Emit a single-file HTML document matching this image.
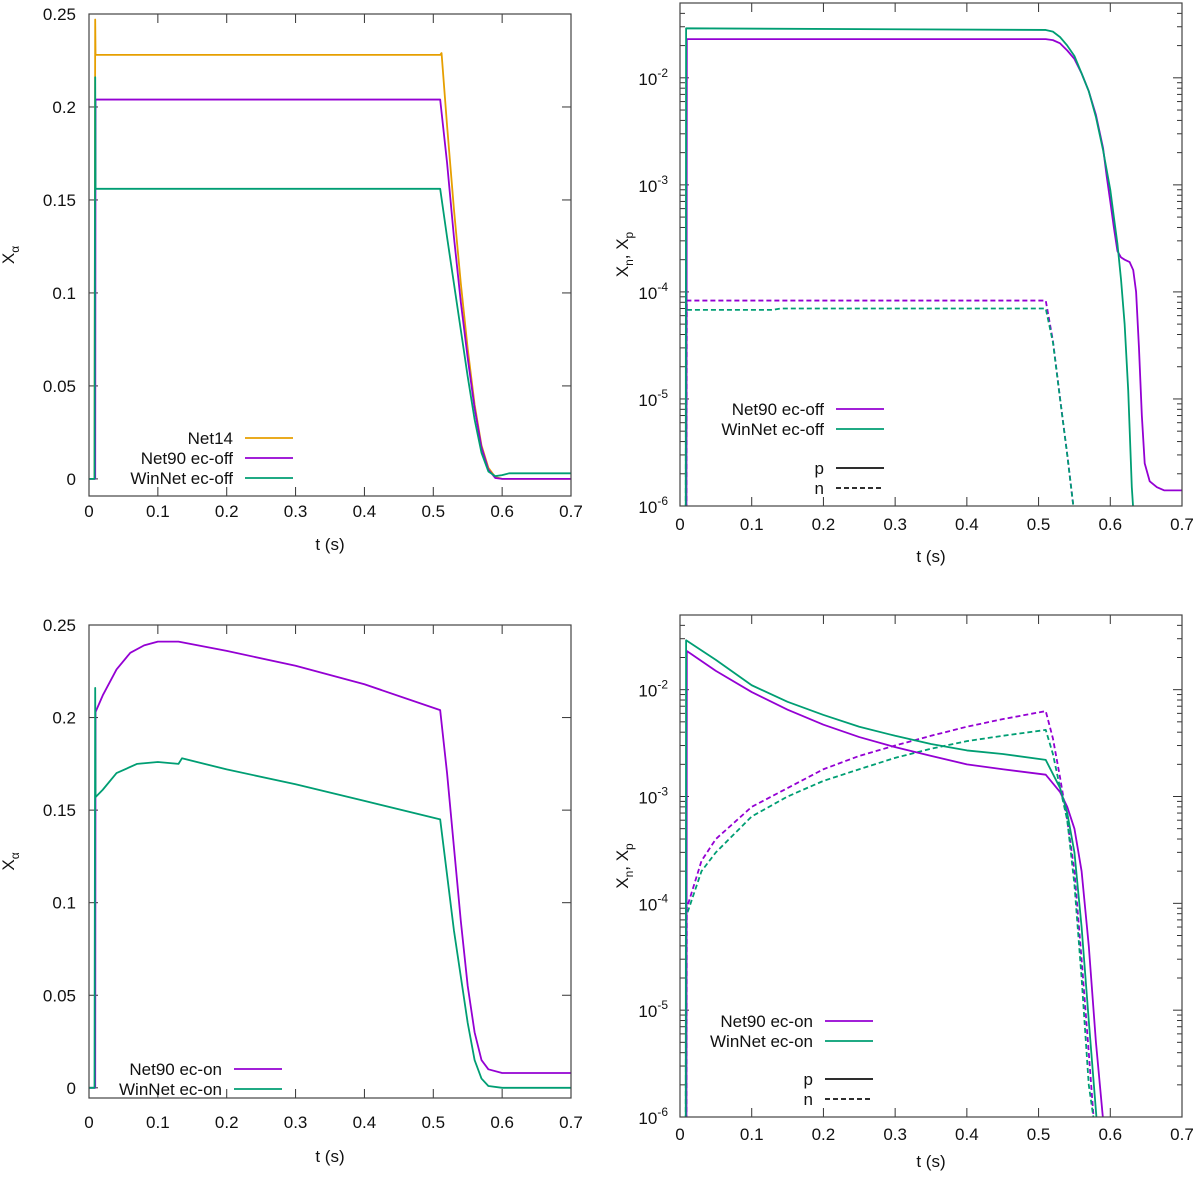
<!DOCTYPE html>
<html><head><meta charset="utf-8"><style>
html,body{margin:0;padding:0;background:#fff;width:1200px;height:1179px;overflow:hidden}
svg{display:block;overflow:hidden;font-family:"Liberation Sans","DejaVu Sans",sans-serif}
</style></head><body>
<svg id="fig" width="1200" height="1179" viewBox="0 0 1200 1179"></svg>
<script>
const xTicks=[0,0.1,0.2,0.3,0.4,0.5,0.6,0.7];
const xTickLabels=["0","0.1","0.2","0.3","0.4","0.5","0.6","0.7"];
const linTicks=[0,0.05,0.1,0.15,0.2,0.25];
const linTickLabels=["0","0.05","0.1","0.15","0.2","0.25"];
const logDecades=[-6,-5,-4,-3,-2];
// panel a (top-left)
const a_net14=[[0,0],[0.008,0],[0.009,0.247],[0.0095,0.228],[0.51,0.228],[0.512,0.229],[0.52,0.19],[0.53,0.145],[0.54,0.105],[0.55,0.07],[0.56,0.04],[0.57,0.018],[0.58,0.006],[0.59,0.001],[0.6,0],[0.7,0]];
const a_net90=[[0,0],[0.009,0],[0.0095,0.204],[0.51,0.204],[0.52,0.17],[0.53,0.13],[0.54,0.095],[0.55,0.065],[0.56,0.038],[0.57,0.017],[0.58,0.005],[0.59,0.0005],[0.6,0],[0.7,0]];
const a_winnet=[[0,0],[0.008,0],[0.009,0.216],[0.0095,0.156],[0.51,0.156],[0.52,0.13],[0.53,0.105],[0.54,0.08],[0.55,0.055],[0.56,0.032],[0.57,0.014],[0.58,0.004],[0.59,0.0015],[0.6,0.002],[0.61,0.003],[0.7,0.003]];
// panel b (top-right)
const b_net90p=[[0.009,1e-8],[0.0095,0.023],[0.51,0.023],[0.52,0.0225],[0.53,0.021],[0.54,0.018],[0.55,0.015],[0.56,0.011],[0.57,0.0075],[0.58,0.0045],[0.59,0.0022],[0.595,0.0012],[0.6,0.0007],[0.605,0.0004],[0.61,0.00024],[0.615,0.00021],[0.62,0.0002],[0.627,0.00019],[0.632,0.00016],[0.636,0.0001],[0.64,0.00003],[0.644,0.000007],[0.648,0.0000025],[0.655,0.0000017],[0.665,0.0000015],[0.675,0.0000014],[0.7,0.0000014]];
const b_winp=[[0.008,1e-8],[0.0085,0.029],[0.51,0.028],[0.52,0.027],[0.53,0.024],[0.54,0.02],[0.55,0.016],[0.56,0.011],[0.57,0.0075],[0.58,0.0043],[0.59,0.0021],[0.6,0.0009],[0.605,0.0005],[0.61,0.00028],[0.615,0.00013],[0.62,0.00005],[0.625,0.000012],[0.63,0.0000015],[0.632,0.0000005]];
const b_net90n=[[0.009,1e-8],[0.0095,8.3e-5],[0.51,8.3e-5],[0.52,3.5e-5],[0.53,1e-5],[0.54,3e-6],[0.549,8e-7]];
const b_winn=[[0.008,1e-8],[0.0085,6.8e-5],[0.13,6.8e-5],[0.14,7e-5],[0.51,7e-5],[0.52,3.4e-5],[0.53,1e-5],[0.54,3e-6],[0.549,8e-7]];
// panel c (bottom-left)
const c_net90=[[0,0],[0.009,0],[0.0095,0.203],[0.02,0.212],[0.04,0.226],[0.06,0.235],[0.08,0.239],[0.1,0.241],[0.13,0.241],[0.2,0.236],[0.3,0.228],[0.4,0.218],[0.51,0.204],[0.52,0.17],[0.53,0.13],[0.54,0.09],[0.55,0.055],[0.56,0.03],[0.57,0.015],[0.58,0.01],[0.6,0.008],[0.7,0.008]];
const c_winnet=[[0,0],[0.008,0],[0.009,0.216],[0.0095,0.157],[0.02,0.161],[0.04,0.17],[0.07,0.175],[0.1,0.176],[0.13,0.175],[0.135,0.178],[0.2,0.172],[0.3,0.164],[0.4,0.155],[0.51,0.145],[0.52,0.115],[0.53,0.085],[0.54,0.06],[0.55,0.035],[0.56,0.015],[0.57,0.005],[0.58,0.001],[0.6,0],[0.7,0]];
// panel d (bottom-right)
const d_net90p=[[0.009,1e-8],[0.0095,0.023],[0.05,0.015],[0.1,0.0095],[0.15,0.0065],[0.2,0.0047],[0.25,0.0036],[0.3,0.0029],[0.35,0.0024],[0.4,0.002],[0.45,0.0018],[0.51,0.0016],[0.53,0.0011],[0.54,0.0008],[0.55,0.0005],[0.56,0.0002],[0.57,0.00004],[0.58,0.000005],[0.59,0.0000008]];
const d_winp=[[0.008,1e-8],[0.0085,0.029],[0.05,0.019],[0.1,0.011],[0.15,0.0077],[0.2,0.0058],[0.25,0.0045],[0.3,0.0037],[0.35,0.0031],[0.4,0.0027],[0.45,0.0025],[0.51,0.0022],[0.53,0.0012],[0.54,0.0007],[0.55,0.0003],[0.56,0.00006],[0.57,0.000008],[0.581,0.0000008]];
const d_net90n=[[0.009,1e-8],[0.0095,9e-5],[0.03,0.00025],[0.05,0.0004],[0.1,0.0008],[0.15,0.0012],[0.2,0.0018],[0.25,0.0024],[0.3,0.003],[0.35,0.0037],[0.4,0.0045],[0.45,0.0053],[0.51,0.0063],[0.52,0.0035],[0.53,0.0015],[0.54,0.0006],[0.55,0.0002],[0.56,0.00003],[0.57,0.000004],[0.577,0.0000008]];
const d_winn=[[0.008,1e-8],[0.0085,7.5e-5],[0.03,0.0002],[0.05,0.0003],[0.1,0.00065],[0.15,0.001],[0.2,0.0014],[0.25,0.0018],[0.3,0.0023],[0.35,0.0028],[0.4,0.0033],[0.45,0.0037],[0.51,0.0042],[0.52,0.0025],[0.53,0.0012],[0.54,0.0006],[0.55,0.00015],[0.56,0.00002],[0.57,0.000002],[0.577,0.0000008]];

const NS="http://www.w3.org/2000/svg";
const svg=document.getElementById('fig');
const OR="#e69f00",PU="#9400d3",GR="#009e73";
function mk(tag,attrs,parent){const e=document.createElementNS(NS,tag);for(const k in attrs)e.setAttribute(k,attrs[k]);(parent||svg).appendChild(e);return e;}

function panel(id,L,R,T,B,log,ymin,ymax,series,legend,xlabY,titleY,legX,legYs){
  const g=mk('g',{});
  
  
  const sx=v=>L+(v-0)/(0.7)*(R-L);
  const f=log?(v=>Math.log10(Math.max(v,1e-12))):(v=>v);
  const a=f(ymin),b=f(ymax);
  const sy=v=>B-(f(v)-a)/(b-a)*(B-T);
  const syc=v=>Math.min(sy(v),B+3);
  const cp=mk('clipPath',{id:'clip-'+id},g);
  mk('rect',{x:L,y:T,width:R-L,height:B-T},cp);
  const tk=mk('g',{stroke:'#333','stroke-width':1},g);
  
  
  xTicks.forEach((t,i)=>{const x=sx(t);
    mk('line',{x1:x,y1:B,x2:x,y2:B-9},tk);mk('line',{x1:x,y1:T,x2:x,y2:T+9},tk);
    const tx=mk('text',{x:x,y:xlabY,'text-anchor':'middle','font-size':17,fill:'#111'},g);tx.textContent=xTickLabels[i];
    
    });
  if(!log){
    linTicks.forEach((t,i)=>{const y=sy(t);
      mk('line',{x1:L,y1:y,x2:L+9,y2:y},tk);mk('line',{x1:R,y1:y,x2:R-9,y2:y},tk);
      const tx=mk('text',{x:L-13,y:y+6,'text-anchor':'end','font-size':17,fill:'#111'},g);tx.textContent=linTickLabels[i];
      
      });
  } else {
    logDecades.forEach(d=>{const y=sy(Math.pow(10,d));
      mk('line',{x1:L,y1:y,x2:L+9,y2:y},tk);mk('line',{x1:R,y1:y,x2:R-9,y2:y},tk);
      for(let m=2;m<=9;m++){const v=m*Math.pow(10,d);if(v>ymax)break;const yy=sy(v);
        mk('line',{x1:L,y1:yy,x2:L+5,y2:yy},tk);mk('line',{x1:R,y1:yy,x2:R-5,y2:yy},tk);}
      const tx=mk('text',{x:L-12,y:y+7,'text-anchor':'end','font-size':17,fill:'#111'},g);
      
      
      tx.innerHTML='10<tspan dy="-8" font-size="12">'+d+'</tspan>';});
  }
  series.forEach(s=>{
    const p=mk('polyline',{points:s.d.map(q=>sx(q[0]).toFixed(2)+','+syc(q[1]).toFixed(2)).join(' '),fill:'none',stroke:s.c,'stroke-width':1.8,'stroke-linejoin':'round','clip-path':'url(#clip-'+id+')','stroke-dasharray':s.dash?'5,3':'none'},g);
    
    });
  mk('rect',{x:L,y:T,width:R-L,height:B-T,fill:'none',stroke:'#444','stroke-width':1.2},g);
  const xt=mk('text',{x:(L+R)/2,y:titleY,'text-anchor':'middle','font-size':17,fill:'#111'},g);xt.textContent='t (s)';
  
  
  const yx=log?628:14,yy=(T+B)/2;
  const yt=mk('text',{x:yx,y:yy,'text-anchor':'middle','font-size':17,fill:'#111',transform:'rotate(-90 '+yx+' '+yy+')'},g);
  yt.innerHTML=log?'X<tspan dy="5" font-size="12">n</tspan><tspan dy="-5">, X</tspan><tspan dy="5" font-size="12">p</tspan>':'X<tspan dy="5" font-size="12">α</tspan>';
  
  
  const lg=mk('g',{},g);
  
  
  legend.forEach((e,i)=>{const y=legYs[i];
    const t=mk('text',{x:legX,y:y+6,'text-anchor':'end','font-size':17,fill:'#111'},lg);t.textContent=e.n;
    
    
    const l=mk('line',{x1:legX+12,y1:y,x2:legX+60,y2:y,stroke:e.c,'stroke-width':1.8,'stroke-dasharray':e.dash?'5,3':'none'},lg);
    
    });
}

panel('panel-ecoff-alpha',89,571,14,496,false,-0.0092,0.25,
  [{d:a_net14,c:OR,n:'net14-line'},{d:a_net90,c:PU,n:'net90-ecoff-line'},{d:a_winnet,c:GR,n:'winnet-ecoff-line'}],
  [{n:'Net14',c:OR},{n:'Net90 ec-off',c:PU},{n:'WinNet ec-off',c:GR}],517,550,233,[438,458,478]);
panel('panel-ecoff-np',680,1182,3,506,true,1e-6,5e-2,
  [{d:b_net90n,c:PU,n:'net90-ecoff-n',dash:1},{d:b_winn,c:GR,n:'winnet-ecoff-n',dash:1},{d:b_net90p,c:PU,n:'net90-ecoff-p'},{d:b_winp,c:GR,n:'winnet-ecoff-p'}],
  [{n:'Net90 ec-off',c:PU},{n:'WinNet ec-off',c:GR},{n:'p',c:'#111'},{n:'n',c:'#111',dash:1}],530,562,824,[409,429,468,488]);
panel('panel-econ-alpha',89,571,625,1098,false,-0.0055,0.25,
  [{d:c_net90,c:PU,n:'net90-econ-line'},{d:c_winnet,c:GR,n:'winnet-econ-line'}],
  [{n:'Net90 ec-on',c:PU},{n:'WinNet ec-on',c:GR}],1128,1162,222,[1069,1089]);
panel('panel-econ-np',680,1182,615,1117,true,1e-6,5e-2,
  [{d:d_net90n,c:PU,n:'net90-econ-n',dash:1},{d:d_winn,c:GR,n:'winnet-econ-n',dash:1},{d:d_net90p,c:PU,n:'net90-econ-p'},{d:d_winp,c:GR,n:'winnet-econ-p'}],
  [{n:'Net90 ec-on',c:PU},{n:'WinNet ec-on',c:GR},{n:'p',c:'#111'},{n:'n',c:'#111',dash:1}],1140,1167,813,[1021,1041,1079,1099]);
</script>
</body></html>
